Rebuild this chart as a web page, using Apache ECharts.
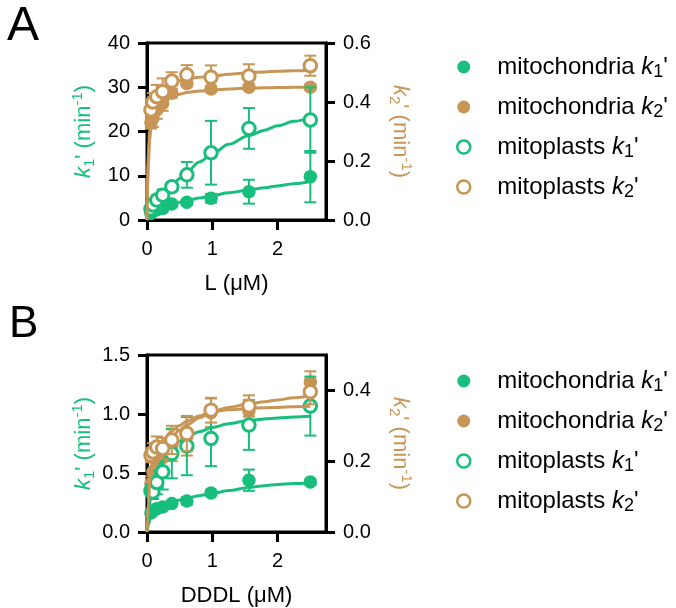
<!DOCTYPE html>
<html><head><meta charset="utf-8">
<script src="https://cdn.jsdelivr.net/npm/echarts@6/dist/echarts.min.js"></script>
<style>html,body{margin:0;padding:0;background:#fff}#c{width:676px;height:608px}</style>
</head><body><div id="c"></div>
<script>
// ---------- data ----------
const xPoints = [0.06, 0.09, 0.15, 0.24, 0.38, 0.61, 0.98, 1.56, 2.5];

// Panel A (L)
const mitoK1A = [1.5, 1.9, 2.3, 2.6, 3.6, 4.0, 4.9, 6.4, 9.8];
const mitoK1AErr = [0.3, 0.4, 0.4, 0.5, 0.5, 0.6, 1.0, 2.7, 5.8];
const mitoK2A = [0.33, 0.345, 0.373, 0.395, 0.43, 0.463, 0.444, 0.45, 0.45];
const mitoK2AErr = [0.02, 0.03, 0.03, 0.025, 0.015, 0.01, 0.01, 0.01, 0.01];
const mitoplK1A = [2.5, 3.4, 4.5, 5.6, 7.5, 10.2, 15.2, 20.7, 22.6];
const mitoplK1AErr = [0.4, 0.6, 0.9, 1.3, 1.0, 2.9, 7.2, 4.6, 7.4];
const mitoplK2A = [0.373, 0.40, 0.418, 0.435, 0.471, 0.492, 0.484, 0.488, 0.523];
const mitoplK2AErr = [0.02, 0.03, 0.04, 0.045, 0.03, 0.033, 0.04, 0.04, 0.034];

// fitted curves, panel A
const fitXA = [0, 0.005, 0.01, 0.02, 0.04, 0.06, 0.1, 0.15, 0.24, 0.38, 0.5, 0.61, 0.8, 1.0, 1.25, 1.56, 1.8, 2.0, 2.25, 2.5];
const fitMitoK1A = [0, 0.15, 0.3, 0.55, 0.9, 1.2, 1.8, 2.3, 3.0, 3.6, 4.0, 4.4, 4.95, 5.5, 6.15, 6.8, 7.3, 7.7, 8.2, 8.7];
const fitMitoplK1A = [0, 0.15, 0.3, 0.6, 1.2, 1.7, 2.6, 3.6, 5.3, 7.7, 9.4, 10.9, 13.1, 15.0, 17.1, 19.1, 20.3, 21.3, 22.3, 23.2];
const fitMitoK2A = [0, 0.07, 0.12, 0.19, 0.27, 0.31, 0.35, 0.373, 0.396, 0.418, 0.426, 0.432, 0.437, 0.44, 0.444, 0.447, 0.448, 0.449, 0.45, 0.45];
const fitMitoplK2A = [0, 0.08, 0.14, 0.22, 0.30, 0.34, 0.39, 0.418, 0.44, 0.463, 0.472, 0.478, 0.484, 0.488, 0.494, 0.499, 0.502, 0.504, 0.506, 0.508];

// Panel B (DDDL)
const mitoK1B = [0.161, 0.178, 0.198, 0.212, 0.241, 0.263, 0.331, 0.439, 0.424];
const mitoK1BErr = [0.01, 0.01, 0.015, 0.015, 0.02, 0.03, 0.02, 0.09, 0.02];
const mitoK2B = [0.137, 0.17, 0.193, 0.21, 0.245, 0.271, 0.337, 0.342, 0.424];
const mitoK2BErr = [0.02, 0.03, 0.04, 0.04, 0.045, 0.055, 0.04, 0.03, 0.03];
const mitoplK1B = [0.35, 0.34, 0.42, 0.51, 0.665, 0.728, 0.793, 0.906, 1.067];
const mitoplK1BErr = [0.05, 0.06, 0.1, 0.15, 0.21, 0.247, 0.235, 0.21, 0.25];
const mitoplK2B = [0.217, 0.226, 0.24, 0.236, 0.26, 0.278, 0.344, 0.356, 0.396];
const mitoplK2BErr = [0.02, 0.025, 0.03, 0.03, 0.04, 0.05, 0.035, 0.03, 0.035];

const fitXB = [0, 0.01, 0.02, 0.05, 0.1, 0.15, 0.24, 0.38, 0.5, 0.61, 0.8, 1.0, 1.25, 1.56, 1.8, 2.0, 2.25, 2.5];
const fitMitoK1B = [0, 0.03, 0.06, 0.113, 0.16, 0.19, 0.227, 0.255, 0.272, 0.287, 0.308, 0.327, 0.352, 0.378, 0.393, 0.402, 0.41, 0.415];
const fitMitoplK1B = [0, 0.06, 0.12, 0.27, 0.43, 0.524, 0.608, 0.72, 0.77, 0.806, 0.85, 0.886, 0.918, 0.945, 0.958, 0.966, 0.974, 0.98];
const fitMitoK2B = [0, 0.03, 0.06, 0.127, 0.184, 0.21, 0.24, 0.269, 0.288, 0.302, 0.323, 0.34, 0.352, 0.362, 0.368, 0.373, 0.379, 0.385];
const fitMitoplK2B = [0, 0.04, 0.08, 0.156, 0.208, 0.232, 0.258, 0.286, 0.301, 0.313, 0.328, 0.34, 0.345, 0.349, 0.351, 0.352, 0.354, 0.355];

// axes
const xTicks = [0, 1, 2];
const yLeftTicksA = [0, 10, 20, 30, 40];
const yRightTicksA = [0, 0.2, 0.4, 0.6];
const yLeftTicksB = [0, 0.5, 1.0, 1.5];
const yRightTicksB = [0, 0.2, 0.4];
const xNameA = 'L (μM)';
const xNameB = 'DDDL (μM)';
const seriesNames = ["mitochondria k1'", "mitochondria k2'", "mitoplasts k1'", "mitoplasts k2'"];

// ---------- style ----------
const GREEN = '#18be7b';
const TAN = '#c79657';
const FONT = 'Liberation Sans, Arial, Helvetica, sans-serif';

const legendRich = {
  g: {width: 22, lineHeight: 28},
  n: {fontSize: 24, fontFamily: FONT, color: '#000', lineHeight: 28},
  k: {fontSize: 24, fontFamily: FONT, fontStyle: 'italic', color: '#000', lineHeight: 28},
  s: {fontSize: 18, fontFamily: FONT, color: '#000', lineHeight: 14, verticalAlign: 'bottom'}
};
const legendLabel = {
  "mitochondria k1'": "{g|}{n|mitochondria }{k|k}{s|1}{n|'}",
  "mitochondria k2'": "{g|}{n|mitochondria }{k|k}{s|2}{n|'}",
  "mitoplasts k1'": "{g|}{n|mitoplasts }{k|k}{s|1}{n|'}",
  "mitoplasts k2'": "{g|}{n|mitoplasts }{k|k}{s|2}{n|'}"
};
function axisRich(color) {
  return {
    n: {fontSize: 22, fontFamily: FONT, color, lineHeight: 27},
    k: {fontSize: 22, fontFamily: FONT, fontStyle: 'italic', color, lineHeight: 27},
    s: {fontSize: 15, fontFamily: FONT, color, lineHeight: 15, verticalAlign: 'bottom'},
    p: {fontSize: 15, fontFamily: FONT, color, lineHeight: 15, verticalAlign: 'top'}
  };
}
const k1Name = "{k|k}{s|1}{n|' (min}{p|-1}{n|)}";
const k2Name = "{k|k}{s|2}{n|' (min}{p|-1}{n|)}";

const zip = (xs, ys) => xs.map((x, i) => [x, ys[i]]);
const zip3 = (xs, ys, es) => xs.map((x, i) => [x, ys[i], es[i]]);

function errRender(color) {
  return function (params, api) {
    const x = api.value(0), y = api.value(1), e = api.value(2);
    const t = api.coord([x, y + e]);
    const b = api.coord([x, y - e]);
    const hw = 6;
    const style = {stroke: color, lineWidth: 2, fill: null};
    return {type: 'group', children: [
      {type: 'line', shape: {x1: t[0], y1: t[1], x2: b[0], y2: b[1]}, style},
      {type: 'line', shape: {x1: t[0] - hw, y1: t[1], x2: t[0] + hw, y2: t[1]}, style},
      {type: 'line', shape: {x1: b[0] - hw, y1: b[1], x2: b[0] + hw, y2: b[1]}, style}
    ]};
  };
}

function panelSeries(xi, yl, yr, d) {
  const out = [];
  const defs = [
    {name: seriesNames[0], y: d.mk1, e: d.mk1e, fx: d.fx, f: d.fmk1, color: GREEN, open: false, yAxis: yl},
    {name: seriesNames[1], y: d.mk2, e: d.mk2e, fx: d.fx, f: d.fmk2, color: TAN, open: false, yAxis: yr},
    {name: seriesNames[2], y: d.pk1, e: d.pk1e, fx: d.fx, f: d.fpk1, color: GREEN, open: true, yAxis: yl},
    {name: seriesNames[3], y: d.pk2, e: d.pk2e, fx: d.fx, f: d.fpk2, color: TAN, open: true, yAxis: yr}
  ];
  defs.forEach((s, i) => {
    out.push({
      type: 'line', xAxisIndex: xi, yAxisIndex: s.yAxis, data: zip(s.fx, s.f),
      smooth: 0.3, smoothMonotone: 'x', symbol: 'none', lineStyle: {color: s.color, width: 3},
      silent: true, z: 2 + i * 3, animation: false
    });
    out.push({
      type: 'custom', xAxisIndex: xi, yAxisIndex: s.yAxis, data: zip3(xPoints, s.y, s.e),
      renderItem: errRender(s.color), encode: {x: 0, y: 1}, silent: true, z: 3 + i * 3, animation: false
    });
    out.push({
      type: 'scatter', name: s.name, xAxisIndex: xi, yAxisIndex: s.yAxis, data: zip(xPoints, s.y),
      symbol: 'circle', symbolSize: s.open ? 12.5 : 13.5,
      itemStyle: s.open ? {color: '#fff', borderColor: s.color, borderWidth: 3, opacity: 1}
                        : {color: s.color, borderWidth: 0, opacity: 1},
      z: 4 + i * 3, animation: false
    });
  });
  return out;
}

function xAxisCfg(gi, name) {
  return {
    type: 'value', gridIndex: gi, min: 0, max: 2.74, name, nameLocation: 'middle', nameGap: 53,
    nameTextStyle: {fontSize: 22, fontFamily: FONT, color: '#000'},
    axisLine: {show: true, onZero: false, lineStyle: {color: '#000', width: 3}},
    axisTick: {show: true, length: 10, lineStyle: {color: '#000', width: 3}, customValues: xTicks},
    axisLabel: {fontSize: 20, fontFamily: FONT, color: '#000', margin: 19, customValues: xTicks},
    splitLine: {show: false}
  };
}
function yAxisCfg(gi, pos, ticks, max, name, color, dec) {
  return {
    type: 'value', gridIndex: gi, position: pos, min: 0, max,
    name, nameLocation: 'middle', nameGap: pos === 'left' ? 50 : 61, nameRotate: pos === 'left' ? 90 : -90,
    nameTextStyle: {rich: axisRich(color), color},
    axisLine: {show: true, onZero: false, lineStyle: {color: '#000', width: 3}},
    axisTick: {show: true, length: 9, lineStyle: {color: '#000', width: 3}, customValues: ticks},
    axisLabel: {fontSize: 20, fontFamily: FONT, color: '#000', margin: 17, customValues: ticks,
      formatter: v => dec ? Number(v).toFixed(1) : String(Math.round(v))},
    splitLine: {show: false}
  };
}

function legendCfg(top) {
  return {
    orient: 'vertical', left: 451, top, itemWidth: 13, itemHeight: 13, itemGap: 14,
    selectedMode: false,
    data: [
      {name: seriesNames[0], icon: 'circle', itemStyle: {color: GREEN, borderWidth: 0}},
      {name: seriesNames[1], icon: 'circle', itemStyle: {color: TAN, borderWidth: 0}},
      {name: seriesNames[2], icon: 'circle', itemStyle: {color: '#fff', borderColor: GREEN, borderWidth: 2.5}},
      {name: seriesNames[3], icon: 'circle', itemStyle: {color: '#fff', borderColor: TAN, borderWidth: 2.5}}
    ],
    formatter: n => legendLabel[n],
    textStyle: {rich: legendRich, fontSize: 24, fontFamily: FONT, color: '#000'}
  };
}

const chart = echarts.init(document.getElementById('c'), null, {renderer: 'canvas'});
const option = {
  animation: false,
  backgroundColor: '#fff',
  title: [
    {text: 'A', left: 2, top: -2, textStyle: {fontSize: 48, fontWeight: 'normal', fontFamily: FONT, color: '#000'}},
    {text: 'B', left: 4, top: 298, textStyle: {fontSize: 44, fontWeight: 'normal', fontFamily: FONT, color: '#000'}}
  ],
  grid: [
    {left: 147, right: 350, top: 43, height: 177, show: true, borderColor: '#000', borderWidth: 3, backgroundColor: 'transparent'},
    {left: 147, right: 350, top: 355, height: 177, show: true, borderColor: '#000', borderWidth: 3, backgroundColor: 'transparent'}
  ],
  xAxis: [xAxisCfg(0, xNameA), xAxisCfg(1, xNameB)],
  yAxis: [
    yAxisCfg(0, 'left', yLeftTicksA, 40, k1Name, GREEN, false),
    yAxisCfg(0, 'right', yRightTicksA, 0.6, k2Name, TAN, true),
    yAxisCfg(1, 'left', yLeftTicksB, 1.5, k1Name, GREEN, true),
    yAxisCfg(1, 'right', yRightTicksB, 0.5, k2Name, TAN, true)
  ],
  legend: [legendCfg(50), legendCfg(364)],
  series: [
    ...panelSeries(0, 0, 1, {
      fx: fitXA, mk1: mitoK1A, mk1e: mitoK1AErr, fmk1: fitMitoK1A,
      mk2: mitoK2A, mk2e: mitoK2AErr, fmk2: fitMitoK2A,
      pk1: mitoplK1A, pk1e: mitoplK1AErr, fpk1: fitMitoplK1A,
      pk2: mitoplK2A, pk2e: mitoplK2AErr, fpk2: fitMitoplK2A
    }),
    ...panelSeries(1, 2, 3, {
      fx: fitXB, mk1: mitoK1B, mk1e: mitoK1BErr, fmk1: fitMitoK1B,
      mk2: mitoK2B, mk2e: mitoK2BErr, fmk2: fitMitoK2B,
      pk1: mitoplK1B, pk1e: mitoplK1BErr, fpk1: fitMitoplK1B,
      pk2: mitoplK2B, pk2e: mitoplK2BErr, fpk2: fitMitoplK2B
    })
  ]
};
chart.setOption(option);
</script>
</body></html>
